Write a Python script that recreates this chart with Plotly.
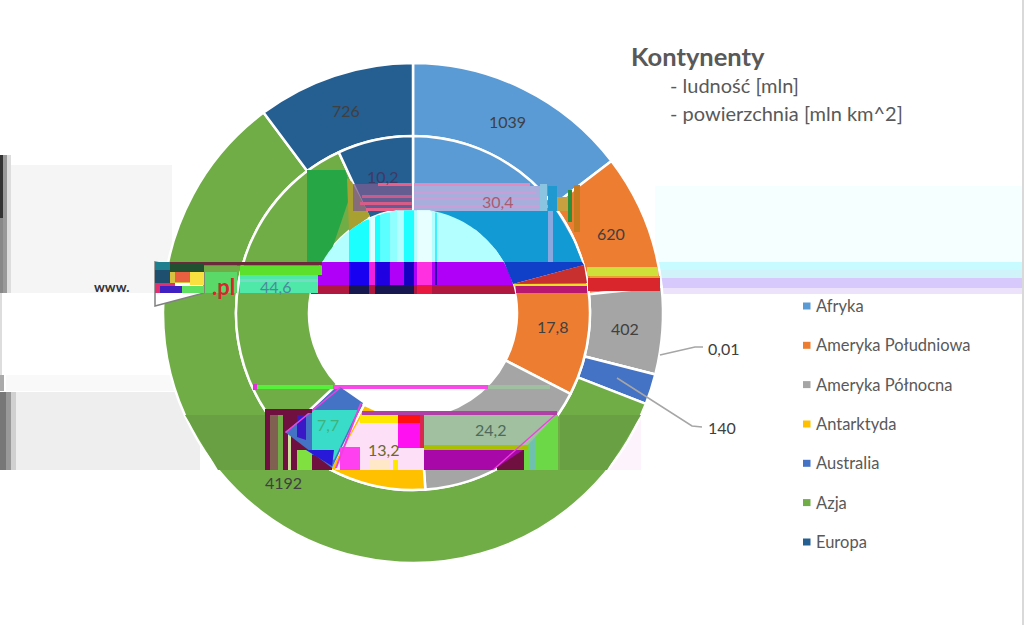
import numpy as np
import plotly.graph_objects as go

W, H = 1024, 625
categories = ["Afryka", "Ameryka Południowa", "Ameryka Północna", "Antarktyda", "Australia", "Azja", "Europa"]
ludnosc = [1039, 620, 402, 0.01, 140, 4192, 726]
ludnosc_text = ["1039", "620", "402", "", "", "4192", "726"]
powierzchnia = [30.4, 17.8, 24.2, 13.2, 7.7, 44.6, 10.2]
powierzchnia_text = ["30,4", "17,8", "24,2", "13,2", "7,7", "44,6", "10,2"]
colors = ["#5B9BD5", "#ED7D31", "#A5A5A5", "#FFC000", "#4472C4", "#70AD47", "#255E91"]
inner_label_colors = ["#A85C70", "#404040", "#4F6A5C", "#6C6A24", "#3FB27C", "#4A8A9C", "#3E3A66"]
FONT = "Lato, Carlito, Calibri, sans-serif"
CX, CY = 413, 313
R_OUT, R_MID, R_HOLE = 250, 177, 104


def dom(r):
    return dict(x=[(CX - r) / W, (CX + r) / W], y=[(H - CY - r) / H, (H - CY + r) / H])


def px(x):
    return x / W


def py(y):
    return 1 - y / H


def rect(x0, y0, x1, y1, color, layer="above", opacity=1):
    return dict(type="rect", xref="paper", yref="paper", x0=px(x0), x1=px(x1), y0=py(y0), y1=py(y1),
                fillcolor=color, line_width=0, layer=layer, opacity=opacity)


def poly(points, color, outline=None, closed=True):
    d = "M" + " L".join(f"{px(a):.5f},{py(b):.5f}" for a, b in points) + (" Z" if closed else "")
    return dict(type="path", xref="paper", yref="paper", path=d, fillcolor=color if closed else "rgba(0,0,0,0)",
                line=dict(color=outline or "rgba(0,0,0,0)", width=1.5 if outline else 0), layer="above")


def hole_band(y0, y1, color, x0=None, x1=None):
    """Part of the centre hole lying between two rows (and optionally two columns)."""
    ys = np.linspace(y0, y1, 24)
    half = np.sqrt(np.maximum(R_HOLE ** 2 - (ys - CY) ** 2, 0))
    left = CX - half if x0 is None else np.maximum(CX - half, x0)
    right = CX + half if x1 is None else np.minimum(CX + half, x1)
    keep = right > left
    pts = list(zip(left[keep], ys[keep])) + list(zip(right[keep][::-1], ys[keep][::-1]))
    return poly(pts, color)


def ring(vals, r, hole):
    return go.Pie(labels=categories, values=vals, textinfo="none", sort=False, direction="clockwise", rotation=0,
                  hole=hole, domain=dom(r), showlegend=False,
                  marker=dict(colors=colors, line=dict(color="white", width=2.5)))


fig = go.Figure([ring(ludnosc, R_OUT, R_MID / R_OUT), ring(powierzchnia, R_MID, R_HOLE / R_MID)])

shapes = [
    # pale background bands
    rect(8, 165, 172, 293, "#F5F5F5", "below"),
    rect(6, 375, 190, 391, "#F9F9F9", "below"),
    rect(15, 392, 200, 470, "#EEEEEE", "below"),
    rect(560, 392, 641, 470, "#FDF3FD", "below"),
    rect(655, 186, 1022, 262, "#F5FFFF", "below"),
    rect(655, 262, 1022, 270, "#C8FBFF", "below"),
    rect(655, 270, 1022, 278, "#D0F3FA", "below"),
    rect(655, 278, 1022, 288, "#D8C9FD", "below"),
    rect(655, 288, 1022, 294, "#ECE2FC", "below"),
    rect(0, 155, 3, 218, "#333333", "below"),
    rect(0, 218, 3, 293, "#888888", "below"),
    rect(3, 155, 7, 293, "#999999", "below"),
    rect(7, 155, 11, 293, "#DDDDDD", "below"),
    rect(0, 293, 2, 375, "#DDDDDD", "below"),
    rect(0, 375, 4, 391, "#AAAAAA", "below"),
    rect(0, 392, 6, 470, "#777777", "below"),
    rect(6, 392, 11, 470, "#999999", "below"),
    rect(11, 392, 16, 470, "#D0D0D0", "below"),
    rect(1022, 0, 1024, 625, "#D9D9D9", "below"),
    # darker rows of the outer ring
    poly([(185, 415), (218, 470), (266, 470), (266, 415)], "#6AA044"),
    poly([(560, 415), (641, 415), (607, 470), (560, 470)], "#6AA044"),
    # top left of the inner ring
    poly([(307, 170), (345, 170), (352, 190), (330, 255), (322, 262), (307, 262)], "#26A645"),
    poly([(347, 178), (352, 182), (370, 216), (349, 232)], "#A8A030"),
    # Europe and Africa streaks
    rect(353, 184, 412, 211, "#7A5E92", opacity=0.75),
    rect(378, 183, 412, 186, "#E8608A"),
    rect(362, 195, 412, 198, "#C85C8C"),
    rect(360, 202, 412, 205, "#D85C88"),
    rect(366, 208, 412, 211, "#E8608A"),
    rect(414, 183, 530, 186, "#E08CC0"),
    rect(414, 186, 545, 211, "#A8AEDC"),
    rect(414, 192, 535, 194, "#C8A0D8"),
    rect(414, 198, 540, 200, "#C8A0D8"),
    rect(414, 205, 548, 208, "#C8A0D8"),
    rect(540, 184, 547, 211, "#8AC4E0"),
    rect(548, 186, 557, 211, "#2098D0"),
    rect(557, 197, 570, 211, "#C8A040"),
    rect(568, 190, 572, 222, "#2E8F3A"),
    rect(574, 185, 580, 232, "#C87A20"),
    poly([(433, 211), (556, 211), (573, 240), (582, 262), (504, 262), (496, 250), (476, 230)], "#129AD4"),
    rect(548, 211, 553, 270, "#8AA8E0"),
    # hole: cyan part
    hole_band(208, 262, "#B3FFFF"),
    hole_band(208, 262, "#1CFFFF", 349, 369),
    hole_band(208, 262, "#DDFFFF", 369, 375),
    hole_band(208, 262, "#1CFFFF", 375, 380),
    hole_band(208, 262, "#5CFFFF", 380, 390),
    hole_band(208, 262, "#90FFFF", 390, 397),
    hole_band(208, 262, "#20FFFF", 404, 414),
    hole_band(208, 262, "#E8FFFF", 417, 432),
    hole_band(208, 262, "#40F0FF", 435, 437),
    # hole: purple and crimson rows
    hole_band(262, 285, "#B000F8"),
    hole_band(262, 285, "#1800F0", 349, 369),
    hole_band(262, 285, "#F020E0", 369, 375),
    hole_band(262, 285, "#2000E0", 375, 390),
    hole_band(262, 285, "#1800C0", 404, 414),
    hole_band(262, 285, "#FF30E0", 417, 432),
    hole_band(262, 285, "#3000B0", 435, 437),
    hole_band(285, 294, "#B01840"),
    hole_band(285, 294, "#181850", 349, 369),
    hole_band(285, 294, "#181850", 375, 414),
    hole_band(285, 294, "#E81840", 417, 432),
    # South America row
    poly([(504, 262), (582, 262), (584, 265), (513, 284)], "#1040C8"),
    poly([(513, 284), (584, 265), (587, 283)], "#C83030"),
    rect(514, 284, 587, 286, "#E8E020"),
    rect(516, 286, 587, 293, "#B81870"),
    rect(587, 267, 658, 276, "#CFE03A"),
    rect(588, 278, 660, 291, "#D8262C"),
    rect(590, 276, 660, 278, "#E8A030"),
    # left row through both rings
    rect(168, 262, 322, 265.5, "#6B2A3A"),
    rect(170, 265.5, 237, 272, "#70AD47"),
    rect(205, 272, 237, 293, "#5AD868"),
    rect(240, 265.5, 322, 275, "#5CE02C"),
    rect(240, 275, 318, 293, "#50E8A8"),
    rect(240, 279, 318, 282, "#74DCC0"),
    # left stub box
    poly([(155, 262), (155, 306), (204, 293), (204, 272)], "white", "#808080"),
    rect(155, 262, 170, 270, "#1F7F8F"),
    rect(155, 270, 204, 283, "#D8C040"),
    rect(155, 270, 170, 283, "#1F4F6F"),
    rect(170, 263, 204, 272, "#205030"),
    rect(175, 272, 190, 282, "#E86040"),
    rect(190, 272, 204, 285, "#F8E040"),
    rect(155, 283, 175, 293, "#E03070"),
    rect(160, 286, 182, 293, "#4020C0"),
    rect(182, 286, 204, 293, "#60E060"),
    # grey row and lines across the lower rings
    rect(253, 385, 333, 389, "#55F03A"),
    rect(253, 384, 257, 390, "#E030D8"),
    rect(333, 385, 488, 389, "#F848E8"),
    rect(488, 385, 550, 389, "#A0BFA0"),
    # lower left stripes
    rect(265, 409, 312, 470, "#701040"),
    rect(270, 415, 278, 470, "#806050"),
    rect(278, 415, 283, 470, "#70AD47"),
    rect(288, 430, 291, 470, "#D0E0A0"),
    rect(297, 450, 312, 470, "#80E040"),
    rect(312, 455, 332, 470, "#701040"),
    # Australia
    poly([(340, 387), (363, 403), (332, 468), (285, 432)], "#4472C4"),
    poly([(312, 410), (358, 410), (334, 460), (312, 450)], "#38DCC8"),
    poly([(297, 415), (306, 415), (306, 440), (297, 437)], "#3A18C8"),
    poly([(306, 450), (334, 450), (332, 466)], "#2818D8"),
    poly([(285, 432), (340, 387), (341, 388), (286, 433)], "#F040E0"),
    # Antarctica
    poly([(362, 415), (424, 415), (424, 470), (335, 470), (347, 442)], "#FDE0F8"),
    rect(360, 415, 399, 423, "#FFE800"),
    rect(398, 415, 420, 423, "#FF1010"),
    rect(398, 423, 420, 448, "#FF10F0"),
    rect(340, 447, 360, 470, "#FF40F0"),
    rect(393, 460, 398, 470, "#FFE800"),
    rect(370, 460, 390, 470, "#FFE8C8"),
    poly([(362, 403), (337, 468), (335, 468), (360, 403)], "#F040E0"),
    rect(420, 415, 424, 448, "#D82850"),
    # North America
    rect(362, 411, 557, 415, "#B040A8"),
    rect(265, 409, 312, 413, "#701040"),
    rect(497, 415, 558, 470, "#6CD848"),
    rect(530, 418, 535, 470, "#70C0B0"),
    rect(497, 450, 524, 470, "#701040"),
    poly([(424, 415), (556, 415), (523, 450), (424, 450)], "#A0C0A0"),
    rect(424, 445, 528, 450, "#A8C000"),
    poly([(424, 450), (523, 450), (493, 470), (424, 470)], "#A808A8"),
    poly([(556, 415), (494, 470), (492, 470), (554, 415)], "#F040E0"),
]

# legend
legend_y = [306, 345.3, 384.6, 424, 463.3, 502.6, 542]
for c, y in zip(colors, legend_y):
    shapes.append(rect(803, y - 3.5, 810.5, y + 3.5, c))

# leader lines
shapes.append(poly([(660, 355), (695, 347), (703, 347)], None, "#A6A6A6", closed=False))
shapes.append(poly([(617, 378), (692, 426), (702, 427)], None, "#A6A6A6", closed=False))


def note(x, y, t, size, color="#595959", bold=False, anchor="left"):
    shift = 2 if anchor == "left" else 0
    return dict(x=px(x - shift), y=py(y), xref="paper", yref="paper", text=f"<b>{t}</b>" if bold else t,
                showarrow=False, xanchor=anchor, yanchor="middle",
                font=dict(family=FONT, size=size, color=color))


def slice_labels(vals, texts, radius, cols):
    v = np.array(vals, float)
    mids = 2 * np.pi * (np.cumsum(v) - v / 2) / v.sum()
    return [note(CX + radius * np.sin(a), CY - radius * np.cos(a), t, 16, c, anchor="center")
            for a, t, c in zip(mids, texts, cols) if t]


ann = [note(816, y, c, 16.5) for c, y in zip(categories, legend_y)]
ann += slice_labels(ludnosc, ludnosc_text, 213, ["#404040"] * 7)
ann += slice_labels(powierzchnia, powierzchnia_text, 140, inner_label_colors)
ann += [
    note(631, 56, "Kontynenty", 25.5, bold=True),
    note(670, 85, "- ludność [mln]", 20),
    note(670, 113, "- powierzchnia [mln km^2]", 20),
    note(708, 348, "0,01", 16, "#404040"),
    note(708, 427, "140", 16, "#404040"),
    note(94, 287, "www.", 13.5, "#333333", bold=True),
    note(212, 286, ".pl", 22, "#D8262C", bold=True),
]

fig.update_layout(width=W, height=H, autosize=False, margin=dict(l=0, r=0, t=0, b=0),
                  paper_bgcolor="white", plot_bgcolor="white", shapes=shapes, annotations=ann)
fig.write_html("out.html", config={"displayModeBar": False},
               post_script="document.body.style.margin='0';document.documentElement.style.overflow='hidden';")
